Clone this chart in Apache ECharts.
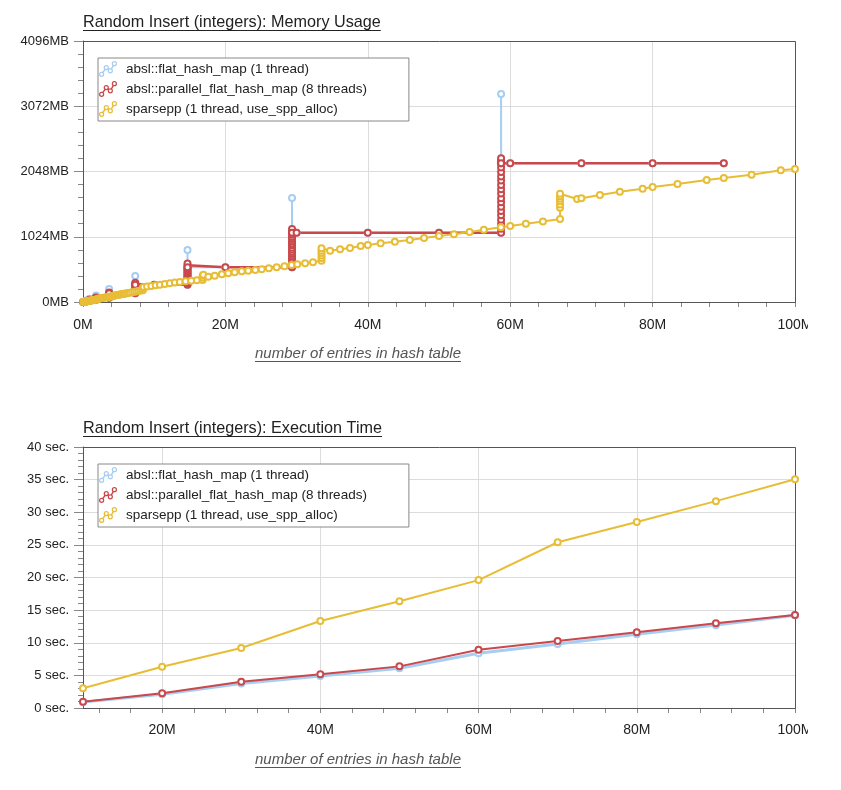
<!DOCTYPE html>
<html>
<head>
<meta charset="utf-8">
<title>Random Insert (integers)</title>
<script src="https://cdn.jsdelivr.net/npm/echarts@6.0.0/dist/echarts.min.js"></script>
<style>
  html, body { margin: 0; padding: 0; background: #fff; }
  #chart { width: 808px; height: 790px; }
</style>
</head>
<body>
<div id="chart"></div>
<script>
// series names + colours
var seriesNames = [
  'absl::flat_hash_map (1 thread)',
  'absl::parallel_flat_hash_map (8 threads)',
  'sparsepp (1 thread, use_spp_alloc)'
];
var seriesColors = ['#a6cdf2', '#c9484b', '#e8bd36'];

// memory chart: [entries (millions), MB]
var flatMem = [
  [0, 1], [0.46, 8.5], [0.46, 25], [0.46, 17], [0.92, 17], [0.92, 51], [0.92, 34],
  [1.83, 34], [1.83, 102], [1.83, 68], [3.67, 68], [3.67, 204], [3.67, 136],
  [7.34, 136], [7.34, 408], [7.34, 272], [10, 272], [14.68, 272], [14.68, 816], [14.68, 544],
  [20, 544], [29.36, 544], [29.36, 1632], [29.36, 1088], [30, 1088], [40, 1088], [50, 1088],
  [58.72, 1088], [58.72, 3264], [58.72, 2176], [60, 2176], [70, 2176], [80, 2176], [90, 2176]
];

var parallelMem = [
  [0, 1], [0.46, 8.5], [0.46, 17], [0.92, 17], [0.92, 26], [0.92, 34],
  [1.83, 34], [1.83, 44], [1.83, 55], [1.83, 63], [1.83, 72], [1.83, 68],
  [3.67, 68], [3.67, 84], [3.67, 101], [3.67, 118], [3.67, 133], [3.67, 150], [3.67, 136],
  [7.34, 136], [7.34, 160], [7.34, 185], [7.34, 212], [7.34, 236], [7.34, 258], [7.34, 284], [7.34, 303], [7.34, 272],
  [10, 272],
  [14.68, 272], [14.68, 290], [14.68, 310], [14.68, 328], [14.68, 345], [14.68, 363], [14.68, 380],
  [14.68, 398], [14.68, 417], [14.68, 435], [14.68, 452], [14.68, 470], [14.68, 490], [14.68, 508],
  [14.68, 527], [14.68, 544], [14.68, 575], [14.68, 605], [14.68, 544],
  [20, 544],
  [29.36, 544], [29.36, 580], [29.36, 612], [29.36, 650], [29.36, 683], [29.36, 718], [29.36, 752],
  [29.36, 785], [29.36, 820], [29.36, 852], [29.36, 890], [29.36, 920], [29.36, 955], [29.36, 990],
  [29.36, 1022], [29.36, 1056], [29.36, 1088], [29.36, 1120], [29.36, 1145], [29.36, 1088],
  [30, 1088], [40, 1088], [50, 1088],
  [58.72, 1088], [58.72, 1150], [58.72, 1225], [58.72, 1290], [58.72, 1362], [58.72, 1430], [58.72, 1495],
  [58.72, 1566], [58.72, 1630], [58.72, 1702], [58.72, 1770], [58.72, 1835], [58.72, 1905], [58.72, 1968],
  [58.72, 2040], [58.72, 2110], [58.72, 2176], [58.72, 2215], [58.72, 2255], [58.72, 2176],
  [60, 2176], [70, 2176], [80, 2176], [90, 2176]
];

var sparseMem = [
  [0.05, 1], [0.1, 3], [0.2, 5], [0.3, 7], [0.4, 9], [0.5, 11], [0.6, 13], [0.75, 16],
  [0.9, 19], [1.05, 22], [1.2, 26], [1.35, 29], [1.5, 32], [1.7, 36], [1.9, 40], [2.1, 45],
  [2.1, 52], [2.3, 55], [2.5, 58], [2.7, 61], [2.9, 65], [3.1, 69], [3.3, 73], [3.5, 77],
  [3.7, 81], [3.9, 85], [4.2, 90], [4.2, 100], [4.4, 103], [4.6, 107], [4.8, 111], [5.0, 115],
  [5.2, 119], [5.4, 123], [5.6, 127], [5.8, 131], [6.0, 135], [6.3, 141], [6.6, 147], [6.9, 153],
  [7.2, 160], [7.5, 166], [7.8, 172], [8.1, 179], [8.4, 186], [8.4, 200], [8.4, 215], [8.5, 236],
  [9.0, 242], [9.6, 252], [10.2, 262], [10.8, 272], [11.5, 283], [12.2, 294], [12.9, 305],
  [13.6, 315], [14.4, 325], [15.2, 333], [16.0, 340], [16.8, 347], [16.8, 380], [16.8, 410],
  [16.9, 428], [17.6, 397], [18.5, 413], [19.5, 435], [20.4, 450], [21.3, 466], [22.3, 482],
  [23.2, 491], [24.2, 502], [25.1, 515], [26.1, 529], [27.2, 545], [28.3, 562], [29.3, 580],
  [30.1, 592], [31.2, 607], [32.3, 625], [33.5, 648], [33.5, 690], [33.5, 730], [33.5, 770],
  [33.5, 805], [33.5, 843], [34.7, 805], [36.1, 827], [37.5, 848], [39.0, 879], [40.0, 895],
  [41.8, 921], [43.8, 946], [45.9, 973], [47.9, 1004], [50.0, 1036], [52.1, 1062], [54.3, 1098],
  [56.3, 1133], [58.7, 1172], [60.0, 1192], [62.2, 1227], [64.6, 1264], [67.0, 1302],
  [67.0, 1480], [67.0, 1530], [67.0, 1580], [67.0, 1620], [67.0, 1660], [67.0, 1700],
  [69.4, 1616], [70.0, 1627], [72.6, 1679], [75.4, 1731], [78.6, 1778], [80.0, 1804],
  [83.5, 1851], [87.6, 1914], [90.0, 1945], [93.9, 1997], [98.0, 2066], [100.0, 2087]
];

// execution time chart
var entriesM = [10, 20, 30, 40, 50, 60, 70, 80, 90, 100];
var flatSec = [0.9, 2.1, 3.75, 4.9, 6.1, 8.4, 9.8, 11.3, 12.7, 14.2];
var parallelSec = [0.97, 2.25, 4.03, 5.16, 6.38, 8.94, 10.27, 11.6, 12.98, 14.25];
var sparseSec = [3.02, 6.33, 9.2, 13.33, 16.35, 19.6, 25.4, 28.5, 31.7, 35.05];

var timeMinorTicks = [12, 16, 20, 24, 28, 32, 36, 40, 44, 48, 52, 56, 60, 64, 68, 72, 76, 80, 84, 88, 92, 96, 100];

var titleMem = 'Random Insert (integers): Memory Usage';
var titleTime = 'Random Insert (integers): Execution Time';
var xName = 'number of entries in hash table';

var FONT = '"Liberation Sans", Arial, sans-serif';

function textWidth(str, font) {
  var ctx = document.createElement('canvas').getContext('2d');
  ctx.font = font;
  return ctx.measureText(str).width;
}

// little zigzag of rings, used as legend icon
function ringIcon() {
  var pts = [[2.8, 13.2], [7.4, 6.6], [11.4, 9.8], [15.4, 2.8]];
  var R = 2.6, r = 1.4, h = 0.7;
  var f = function (v) { return v.toFixed(2); };
  var d = '';
  pts.forEach(function (p) {
    d += 'M' + f(p[0] + R) + ' ' + f(p[1]) + 'A' + R + ' ' + R + ' 0 1 1 ' + f(p[0] - R) + ' ' + f(p[1]) +
      'A' + R + ' ' + R + ' 0 1 1 ' + f(p[0] + R) + ' ' + f(p[1]) + 'Z';
    d += 'M' + f(p[0] + r) + ' ' + f(p[1]) + 'A' + r + ' ' + r + ' 0 1 0 ' + f(p[0] - r) + ' ' + f(p[1]) +
      'A' + r + ' ' + r + ' 0 1 0 ' + f(p[0] + r) + ' ' + f(p[1]) + 'Z';
  });
  for (var i = 0; i < pts.length - 1; i++) {
    var a = pts[i], b = pts[i + 1];
    var dx = b[0] - a[0], dy = b[1] - a[1], len = Math.sqrt(dx * dx + dy * dy);
    var ux = dx / len, uy = dy / len, nx = -uy * h, ny = ux * h, k = R - 0.4;
    var s = [a[0] + ux * k, a[1] + uy * k], e = [b[0] - ux * k, b[1] - uy * k];
    var q = [[s[0] + nx, s[1] + ny], [e[0] + nx, e[1] + ny], [e[0] - nx, e[1] - ny], [s[0] - nx, s[1] - ny]];
    var area = 0;
    for (var j = 0; j < 4; j++) {
      var m = q[j], n = q[(j + 1) % 4];
      area += m[0] * n[1] - n[0] * m[1];
    }
    if (area < 0) q.reverse();
    d += 'M' + q.map(function (pt) { return f(pt[0]) + ' ' + f(pt[1]); }).join('L') + 'Z';
  }
  return 'path://' + d;
}

var ICON = ringIcon();

function legendFor(top) {
  return {
    orient: 'vertical',
    left: 98,
    top: top,
    itemWidth: 18,
    itemHeight: 16,
    itemGap: 4,
    symbolKeepAspect: false,
    padding: [3, 42, 4, 1],
    backgroundColor: '#fff',
    borderColor: '#888',
    borderWidth: 1,
    borderRadius: 0,
    selectedMode: false,
    itemStyle: { borderWidth: 0 },
    textStyle: { fontFamily: FONT, fontSize: 13.5, color: '#222', padding: [0, 0, 0, 4] },
    data: seriesNames.map(function (n, i) {
      return { name: n, icon: ICON, itemStyle: { color: seriesColors[i], borderWidth: 0 } };
    })
  };
}

function pairs(xs, ys) {
  return xs.map(function (x, i) { return [x, ys[i]]; });
}

function lineSeries(i, data, xIdx, yIdx, width) {
  return {
    name: seriesNames[i],
    type: 'line',
    xAxisIndex: xIdx,
    yAxisIndex: yIdx,
    data: data,
    symbol: 'emptyCircle',
    symbolSize: 6,
    lineStyle: { width: width, color: seriesColors[i] },
    itemStyle: { color: seriesColors[i], borderWidth: 1.5 },
    emphasis: { disabled: true },
    z: 2
  };
}

var yText = { fontFamily: FONT, fontSize: 13, color: '#222' };
var xText = { fontFamily: FONT, fontSize: 14, color: '#222', alignMinLabel: 'center', alignMaxLabel: 'center' };
var gridLine = { lineStyle: { color: '#dcdcdc', width: 1 } };
var frame = { lineStyle: { color: '#555', width: 1 } };

var titleFont = '16.2px ' + FONT;
var nameFont = 'italic 15px ' + FONT;
var wMem = textWidth(titleMem, titleFont);
var wTime = textWidth(titleTime, titleFont);
var wName = textWidth(xName, nameFont);

function underlinedText(str, x, y, font, color, w) {
  return [
    { type: 'text', x: x, y: y, z: 5, style: { text: str, font: font, fill: color, align: 'left', verticalAlign: 'middle' } },
    { type: 'line', z: 5, shape: { x1: x, y1: Math.round(y + 7) + 0.5, x2: x + w, y2: Math.round(y + 7) + 0.5 }, style: { stroke: color, lineWidth: 1 } }
  ];
}

var graphics = []
  .concat(underlinedText(titleMem, 83, 23, titleFont, '#222', wMem))
  .concat(underlinedText(titleTime, 83, 429, titleFont, '#222', wTime))
  .concat(underlinedText(xName, 358 - wName / 2, 354, nameFont, '#555', wName))
  .concat(underlinedText(xName, 358 - wName / 2, 760, nameFont, '#555', wName))
  .concat([
    { type: 'rect', z: 1, shape: { x: 83.5, y: 41.5, width: 712, height: 261 }, style: { fill: null, stroke: '#555', lineWidth: 1 } },
    { type: 'rect', z: 1, shape: { x: 83.5, y: 447.5, width: 712, height: 261 }, style: { fill: null, stroke: '#555', lineWidth: 1 } }
  ]);

var option = {
  animation: false,
  backgroundColor: '#fff',
  grid: [
    { left: 83, top: 41, width: 712, height: 261, outerBoundsMode: 'none' },
    { left: 83, top: 447, width: 712, height: 261, outerBoundsMode: 'none' }
  ],
  xAxis: [
    {
      gridIndex: 0, type: 'value', min: 0, max: 100, interval: 20,
      axisLine: frame,
      axisTick: { show: true, length: 5, lineStyle: { color: '#888' } },
      minorTick: { show: true, splitNumber: 5, length: 5, lineStyle: { color: '#888' } },
      axisLabel: Object.assign({ formatter: '{value}M', margin: 16 }, xText),
      splitLine: gridLine
    },
    {
      gridIndex: 1, type: 'value', min: 10, max: 100,
      axisLine: frame,
      axisTick: { show: false },
      axisLabel: Object.assign({ formatter: '{value}M', margin: 15, showMinLabel: false }, xText),
      splitLine: gridLine
    },
    {
      gridIndex: 1, type: 'value', min: 10, max: 100, position: 'bottom',
      axisLine: { show: false },
      axisLabel: { show: false },
      splitLine: { show: false },
      axisTick: { show: true, length: 5, customValues: timeMinorTicks, lineStyle: { color: '#888' } }
    }
  ],
  yAxis: [
    {
      gridIndex: 0, type: 'value', min: 0, max: 4096, interval: 1024,
      axisLine: Object.assign({ show: true }, frame),
      axisTick: { show: true, length: 9, lineStyle: { color: '#888' } },
      minorTick: { show: true, splitNumber: 5, length: 5, lineStyle: { color: '#888' } },
      axisLabel: Object.assign({ formatter: function (v) { return v + 'MB'; }, margin: 14 }, yText),
      splitLine: gridLine
    },
    {
      gridIndex: 1, type: 'value', min: 0, max: 40, interval: 5,
      axisLine: Object.assign({ show: true }, frame),
      axisTick: { show: true, length: 9, lineStyle: { color: '#888' } },
      minorTick: { show: true, splitNumber: 5, length: 5, lineStyle: { color: '#888' } },
      axisLabel: Object.assign({ formatter: function (v) { return v + ' sec.'; }, margin: 14 }, yText),
      splitLine: gridLine
    }
  ],
  legend: [legendFor(58), legendFor(464)],
  graphic: graphics,
  series: [
    lineSeries(0, flatMem, 0, 0, 2),
    lineSeries(1, parallelMem, 0, 0, 2.5),
    lineSeries(2, sparseMem, 0, 0, 2),
    lineSeries(0, pairs(entriesM, flatSec), 1, 1, 3),
    lineSeries(1, pairs(entriesM, parallelSec), 1, 1, 2),
    lineSeries(2, pairs(entriesM, sparseSec), 1, 1, 2)
  ]
};

var chart = echarts.init(document.getElementById('chart'), null, { renderer: 'canvas' });
chart.setOption(option);
window.addEventListener('resize', function () { chart.resize(); });
</script>
</body>
</html>
